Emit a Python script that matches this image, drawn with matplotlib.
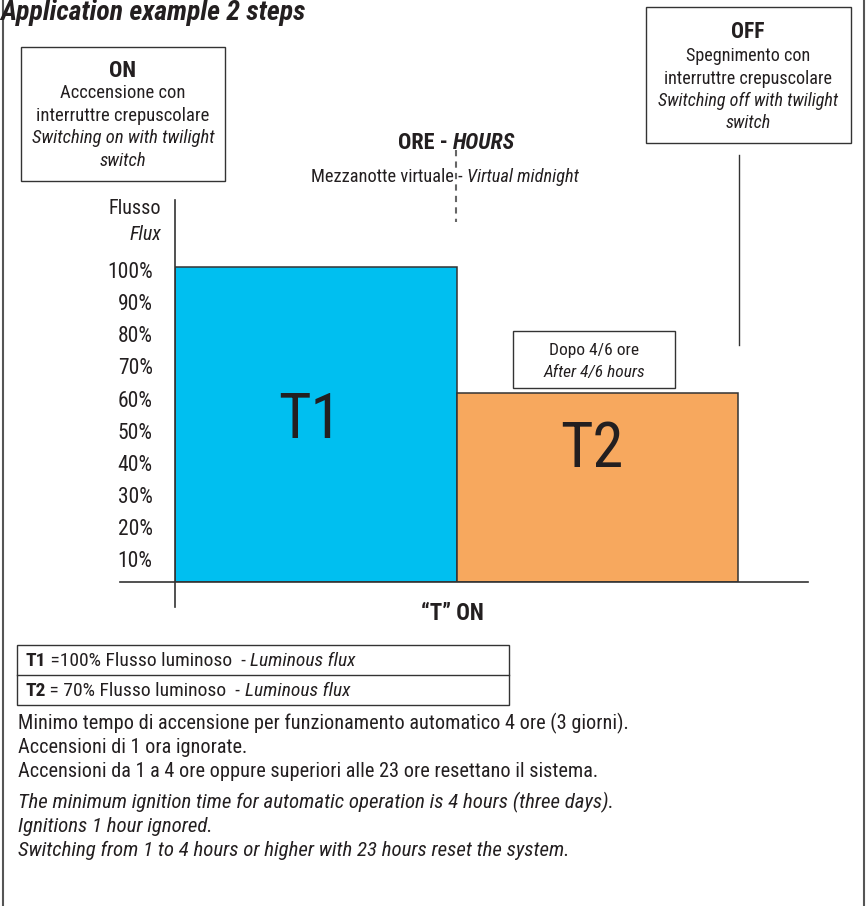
import matplotlib.pyplot as plt
from matplotlib.patches import Rectangle

# ---------- data ----------
steps = ["T1", "T2"]
step_width = [1.0, 1.0]        # relative duration of each step
step_flux = [100, 60]          # bar height as drawn (% of full)
step_colors = ["#00BFF0", "#F7A85E"]
flux_ticks = [10, 20, 30, 40, 50, 60, 70, 80, 90, 100]
flux_labels = [f"{v}%" for v in flux_ticks]

title = "Application example 2 steps"
on_lines = ["Acccensione con", "interruttre crepuscolare", "Switching on with twilight", "switch"]
off_lines = ["Spegnimento con", "interruttre crepuscolare", "Switching off with twilight", "switch"]
table_rows = [("T1", " =100% Flusso luminoso  -", "Luminous flux"),
              ("T2", " = 70% Flusso luminoso  -", "Luminous flux")]
notes_it = ["Minimo tempo di accensione per funzionamento automatico 4 ore (3 giorni).",
            "Accensioni di 1 ora ignorate.",
            "Accensioni da 1 a 4 ore oppure superiori alle 23 ore resettano il sistema."]
notes_en = ["The minimum ignition time for automatic operation is 4 hours (three days).",
            "Ignitions 1 hour ignored.",
            "Switching from 1 to 4 hours or higher with 23 hours reset the system."]

INK = "#231F20"
EDGE = "#333333"
plt.rcParams["font.family"] = ["Roboto Condensed", "DejaVu Sans"]

W, H = 868, 906
fig = plt.figure(figsize=(W / 100, H / 100), dpi=100)

# overlay in pixel coords for the annotations
ov = fig.add_axes([0, 0, 1, 1])
ov.set_xlim(0, W)
ov.set_ylim(H, 0)
ov.axis("off")


def txt(x, y, s, size=13, **kw):
    kw.setdefault("color", INK)
    kw.setdefault("va", "baseline")
    return ov.text(x, y, s, fontsize=size, **kw)


def chain(x, y, parts, size=13):
    # parts: list of (text, weight, style) placed one after another
    prev = None
    for s, w, st in parts:
        if prev is None:
            prev = txt(x, y, s, size, fontweight=w, fontstyle=st)
        else:
            prev = ov.annotate(s, xy=(1, 0), xycoords=prev, xytext=(0, 0),
                               textcoords="offset points", va="bottom", ha="left",
                               fontsize=size, fontweight=w, fontstyle=st, color=INK)
    return prev


def box(x0, y0, x1, y1):
    ov.add_patch(Rectangle((x0, y0), x1 - x0, y1 - y0, fill=False,
                           edgecolor=EDGE, linewidth=1.0))


# outer frame
ov.plot([3, 3], [0, H], color="#555555", lw=1.5)
ov.plot([864, 864], [0, H], color="#555555", lw=1.5)

# title
txt(0, 20, title, 20, fontweight="bold", fontstyle="italic")

# ON box
box(21, 47, 225, 181)
txt(123, 77, "ON", 16, fontweight="bold", ha="center")
for i, s in enumerate(on_lines):
    txt(123, 98 + i * 22.7, s, 13.4, ha="center", fontstyle="normal" if i < 2 else "italic")

# OFF box
box(646, 7, 851, 143)
txt(748, 38, "OFF", 15.5, fontweight="bold", ha="center")
for i, s in enumerate(off_lines):
    txt(748, 61 + i * 22.5, s, 13.1, ha="center", fontstyle="normal" if i < 2 else "italic")

# ORE - HOURS header and virtual midnight
chain(398, 149, [("ORE - ", "bold", "normal"), ("HOURS", "bold", "italic")], 16)
chain(311, 182, [("Mezzanotte virtuale - ", "normal", "normal"),
                 ("Virtual midnight", "normal", "italic")], 13.2)
ov.plot([456, 456], [150, 222], color="#666666", lw=1.5, dashes=(3, 2.5))

# OFF marker line
ov.plot([739, 739], [155, 345], color=EDGE, lw=1.0)

# axis title
txt(161, 214, "Flusso", 14.5, ha="right")
txt(161, 240, "Flux", 14.5, ha="right", fontstyle="italic")

# ---------- bar chart ----------
ax_l, ax_r, ax_t, ax_b = 175, 808, 200, 582
ax = fig.add_axes([ax_l / W, 1 - ax_b / H, (ax_r - ax_l) / W, (ax_b - ax_t) / H])
px_per_unit_y = 3.15
px_per_unit_x = 281.5
ax.set_ylim(0, (ax_b - ax_t) / px_per_unit_y)
ax.set_xlim(0, (ax_r - ax_l) / px_per_unit_x)
ax.patch.set_alpha(0)
for sp in ax.spines.values():
    sp.set_visible(False)

lefts = [sum(step_width[:i]) for i in range(len(step_width))]
bars = ax.bar(lefts, step_flux, width=step_width, align="edge",
              color=step_colors, edgecolor=EDGE, linewidth=1.1, zorder=2)
label_rel_y = [0.51, 0.70]
for b, name, ry in zip(bars, steps, label_rel_y):
    ax.text(b.get_x() + b.get_width() / 2 - 0.02, b.get_height() * ry,
            name, ha="center", va="center", fontsize=45, color=INK, zorder=3)

# tick labels (printed scale sits slightly off the bar baseline)
ax.set_yticks([v * 1.019 - 2.9 for v in flux_ticks])
ax.set_yticklabels(flux_labels, fontsize=15.5, color=INK)
ax.tick_params(axis="y", length=0, pad=16)
ax.set_xticks([])

# axis lines crossing past each other
ax.plot([0, 0], [-25 / (ax_b - ax_t), 1], transform=ax.transAxes, color=EDGE,
        lw=1.2, clip_on=False, zorder=4)
ax.plot([-55 / (ax_r - ax_l), 1], [0, 0], transform=ax.transAxes, color=EDGE,
        lw=1.2, clip_on=False, zorder=4)

# "After 4/6 hours" box
box(513, 331, 675, 388)
txt(594, 355, "Dopo 4/6 ore", 12.5, ha="center")
txt(594, 377, "After 4/6 hours", 12.5, ha="center", fontstyle="italic")

txt(452, 620, "\u201cT\u201d ON", 16.4, ha="center", fontweight="bold")

# ---------- legend table ----------
box(17, 645, 509, 705)
ov.plot([17, 509], [675, 675], color=EDGE, lw=1.0)
for i, (a, b, c) in enumerate(table_rows):
    chain(25, 666 + i * 29.5, [(a, "bold", "normal"), (b + " ", "normal", "normal"),
                               (c, "normal", "italic")], 14)

# ---------- notes ----------
for i, s in enumerate(notes_it):
    txt(18, 729 + i * 24, s, 14.6)
for i, s in enumerate(notes_en):
    txt(18, 808 + i * 24, s, 15, fontstyle="italic")

fig.savefig("out.png", dpi=100)
